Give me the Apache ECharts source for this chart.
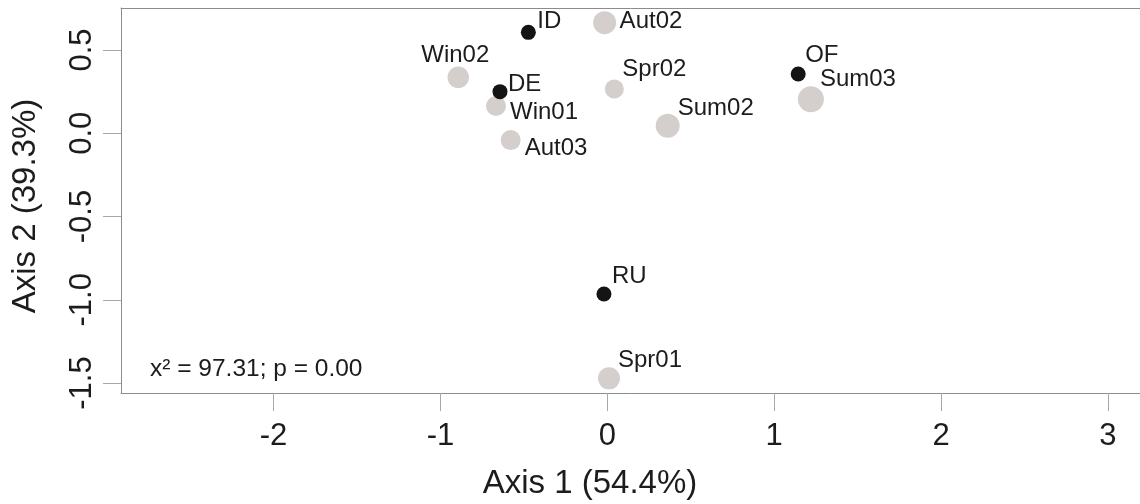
<!DOCTYPE html>
<html>
<head>
<meta charset="utf-8">
<title>Correspondence analysis</title>
<script src="https://cdn.jsdelivr.net/npm/echarts@6/dist/echarts.min.js"></script>
<style>
  html, body { margin: 0; padding: 0; background: #ffffff; }
  #chart { width: 1140px; height: 504px; }
</style>
</head>
<body>
<div id="chart"></div>
<script>
// Sites (row points)
const siteNames = ['ID', 'DE', 'OF', 'RU'];
const siteAxis1 = [-0.473, -0.643, 1.144, -0.020];
const siteAxis2 = [0.606, 0.250, 0.356, -0.965];

// Sampling seasons (column points)
const seasonNames = ['Aut02', 'Win02', 'Win01', 'Aut03', 'Spr02', 'Sum02', 'Sum03', 'Spr01'];
const seasonAxis1 = [-0.016, -0.893, -0.667, -0.579, 0.042, 0.362, 1.220, 0.010];
const seasonAxis2 = [0.664, 0.336, 0.164, -0.041, 0.266, 0.045, 0.204, -1.472];

// Axis ticks
const axis1Ticks = [-2, -1, 0, 1, 2, 3];
const axis2Ticks = [-1.5, -1.0, -0.5, 0.0, 0.5];

const axis1Title = 'Axis 1 (54.4%)';
const axis2Title = 'Axis 2 (39.3%)';
const statsText = 'x\u00b2 = 97.31; p = 0.00';

// ---- styling ----
const FONT = '"Liberation Sans", Arial, Helvetica, sans-serif';
const TEXT = '#1c1c1c';
const FRAME = '#8c8c8c';
const TICK = '#a8a8a8';
const SITE_COLOR = '#141414';
const SEASON_COLOR = '#d4cfcc';

const siteSymbolSize = 15;
const seasonSymbolSize = { Aut02: 23, Win02: 21.5, Win01: 20, Aut03: 20, Spr02: 19, Sum02: 24, Sum03: 26, Spr01: 22 };

// label placement relative to each marker centre (px)
const labelOffset = {
  ID: [9, -11], DE: [8, -7], OF: [7, -19], RU: [8, -18],
  Aut02: [15, -1], Win02: [-37, -22], Win01: [14, 6], Aut03: [14, 8],
  Spr02: [8, -20], Sum02: [10, -17], Sum03: [9, -20], Spr01: [9, -18]
};

function pointItems(names, xs, ys, sizeOf) {
  return names.map((n, i) => ({
    name: n,
    value: [xs[i], ys[i]],
    symbolSize: sizeOf(n),
    label: { offset: labelOffset[n] }
  }));
}

const pointLabel = {
  show: true,
  position: 'inside',
  align: 'left',
  verticalAlign: 'middle',
  formatter: p => p.name,
  color: TEXT,
  opacity: 1,
  fontFamily: FONT,
  fontSize: 24
};

const X_MIN = -2.914, X_MAX = 3.3;

const chart = echarts.init(document.getElementById('chart'), null, { renderer: 'canvas' });

chart.setOption({
  backgroundColor: '#ffffff',
  animation: false,
  grid: {
    left: 121, top: 8, width: 1037, height: 385,
    containLabel: false,
    outerBoundsMode: 'none',
    show: false
  },
  xAxis: [
    {
      type: 'value',
      min: X_MIN, max: X_MAX,
      name: axis1Title,
      nameLocation: 'middle',
      nameGap: 74,
      nameTextStyle: { fontFamily: FONT, fontSize: 33, color: TEXT, padding: [0, 99, 0, 0] },
      axisLine: { show: true, onZero: false, lineStyle: { color: FRAME, width: 1 } },
      axisTick: { show: true, length: 18, customValues: axis1Ticks, lineStyle: { color: TICK, width: 1 } },
      axisLabel: {
        customValues: axis1Ticks, margin: 28,
        fontFamily: FONT, fontSize: 31, color: TEXT,
        formatter: v => String(v)
      },
      splitLine: { show: false }
    },
    {
      // upper edge of the plot frame
      type: 'value',
      position: 'top',
      min: X_MIN, max: X_MAX,
      axisLine: { show: true, onZero: false, lineStyle: { color: FRAME, width: 1 } },
      axisTick: { show: false },
      axisLabel: { show: false },
      splitLine: { show: false }
    }
  ],
  yAxis: {
    type: 'value',
    min: -1.560, max: 0.7523,
    name: axis2Title,
    nameLocation: 'middle',
    nameGap: 79,
    nameRotate: 90,
    nameTextStyle: { fontFamily: FONT, fontSize: 33, color: TEXT, padding: [0, 11, 0, 0] },
    axisLine: { show: true, onZero: false, lineStyle: { color: FRAME, width: 1 } },
    axisTick: { show: true, length: 18, customValues: axis2Ticks, lineStyle: { color: TICK, width: 1 } },
    axisLabel: {
      customValues: axis2Ticks, margin: 23, rotate: 90,
      fontFamily: FONT, fontSize: 31, color: TEXT,
      formatter: v => v.toFixed(1)
    },
    splitLine: { show: false }
  },
  series: [
    {
      name: 'Seasons',
      type: 'scatter',
      symbol: 'circle',
      itemStyle: { color: SEASON_COLOR, opacity: 1 },
      label: pointLabel,
      z: 2,
      data: pointItems(seasonNames, seasonAxis1, seasonAxis2, n => seasonSymbolSize[n])
    },
    {
      name: 'Sites',
      type: 'scatter',
      symbol: 'circle',
      itemStyle: { color: SITE_COLOR, opacity: 1 },
      label: pointLabel,
      z: 3,
      data: pointItems(siteNames, siteAxis1, siteAxis2, () => siteSymbolSize)
    }
  ],
  graphic: [
    {
      type: 'text',
      z: 10,
      style: {
        x: 150, y: 369,
        text: statsText,
        font: '24.5px ' + FONT,
        fill: TEXT,
        verticalAlign: 'middle'
      }
    }
  ]
});
</script>
</body>
</html>
